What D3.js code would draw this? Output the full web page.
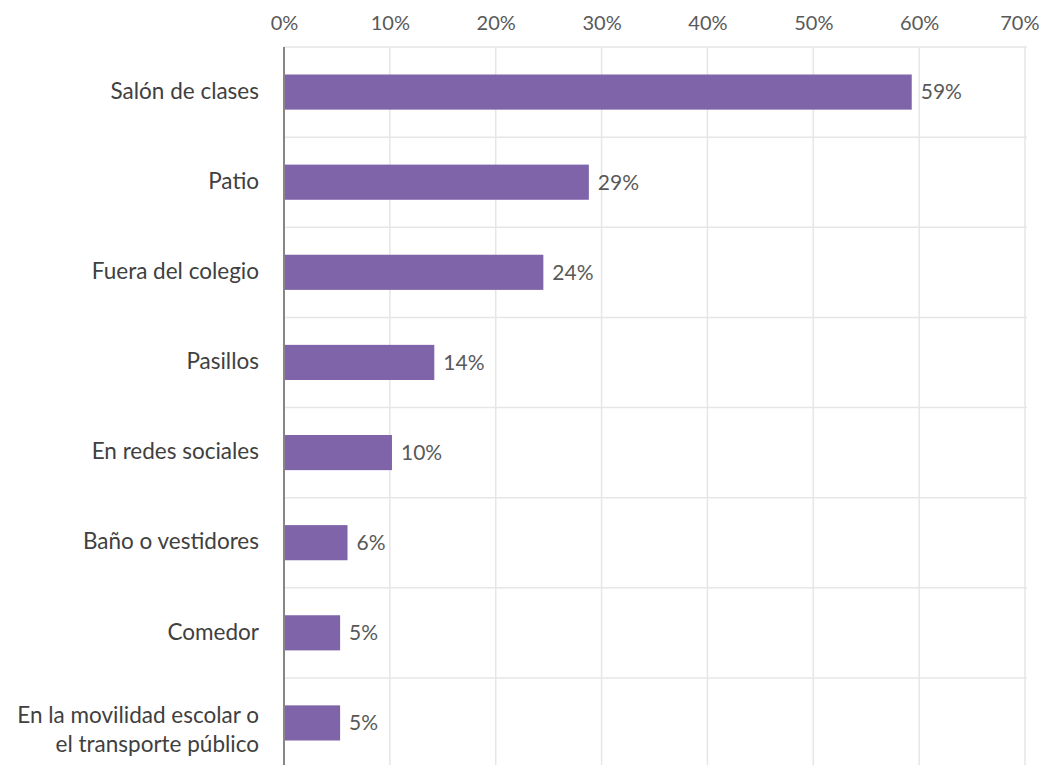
<!DOCTYPE html>
<html><head><meta charset="utf-8">
<script src="https://cdn.jsdelivr.net/npm/d3@7"></script>
<style>
body{margin:0;background:#fff;}
text{font-family:Lato, "Open Sans", sans-serif;}
</style></head>
<body>
<svg id="chart" width="1044" height="765"></svg>
<script>
const categories = ["Salón de clases","Patio","Fuera del colegio","Pasillos","En redes sociales","Baño o vestidores","Comedor","En la movilidad escolar o|el transporte público"];
const values = [0.593, 0.288, 0.245, 0.142, 0.102, 0.060, 0.053, 0.053];
const valueLabels = ["59%","29%","24%","14%","10%","6%","5%","5%"];
const tickValues = [0,0.1,0.2,0.3,0.4,0.5,0.6,0.7];

const svg = d3.select("#chart");
const pLeft = 284, pRight = 1025, pTop = 47, pBottom = 768;
const x = d3.scaleLinear().domain([0,0.7]).range([pLeft,pRight]);
const y = d3.scaleBand().domain(categories).range([pTop,pBottom]).paddingInner(0.61).paddingOuter(0.305);
const yb = d3.scaleBand().domain(categories).range([pTop,pBottom]);

// vertical gridlines
svg.append("g").selectAll("line").data(tickValues.slice(1)).join("line")
  .attr("x1",d=>x(d)).attr("x2",d=>x(d)).attr("y1",pTop).attr("y2",pBottom)
  .attr("stroke","#e6e6e6").attr("stroke-width",1.5);
// horizontal gridlines (band boundaries)
svg.append("g").selectAll("line").data(categories).join("line")
  .attr("x1",pLeft).attr("x2",pRight+2).attr("y1",d=>yb(d)).attr("y2",d=>yb(d))
  .attr("stroke","#e6e6e6").attr("stroke-width",1.5);

// top axis tick labels
const xAxis = d3.axisTop(x).tickValues(tickValues).tickFormat(d3.format(".0%")).tickSize(0).tickPadding(0);
const ga = svg.append("g").attr("transform",`translate(0,${pTop-17})`).call(xAxis);
ga.select(".domain").remove();
ga.selectAll("text").attr("font-size",20).attr("fill","#595959").attr("font-family","Lato, sans-serif").attr("font-weight",400);
ga.selectAll(".tick").filter(d=>d===0.7).select("text").attr("text-anchor","end").attr("x",14);

// bars
svg.append("g").selectAll("rect").data(values).join("rect")
  .attr("x",x(0)).attr("y",(d,i)=>y(categories[i]))
  .attr("width",d=>x(d)-x(0)).attr("height",y.bandwidth())
  .attr("fill","#8064aa");

// value labels
svg.append("g").selectAll("text").data(values).join("text")
  .attr("x",d=>x(d)+9).attr("y",(d,i)=>y(categories[i])+y.bandwidth()/2)
  .attr("dy","0.35em").attr("font-size",21).attr("font-weight",400).attr("fill","#595959")
  .text((d,i)=>valueLabels[i]);

// y axis line
svg.append("line").attr("x1",x(0)).attr("x2",x(0)).attr("y1",pTop).attr("y2",pBottom)
  .attr("stroke","#868686").attr("stroke-width",2);

// category labels
const cl = svg.append("g").selectAll("text").data(categories).join("text")
  .attr("x",pLeft-25).attr("y",d=>y(d)+y.bandwidth()/2)
  .attr("text-anchor","end").attr("font-size",22.5).attr("font-weight",400).attr("fill","#404040");
cl.each(function(d){
  const parts = d.split("|");
  const t = d3.select(this);
  parts.forEach((p,i)=>{
    t.append("tspan").attr("x",pLeft-25)
     .attr("dy", i===0 ? (parts.length>1 ? "0em" : "0.3em") : "1.3em").text(p);
  });
});
</script>
</body></html>
